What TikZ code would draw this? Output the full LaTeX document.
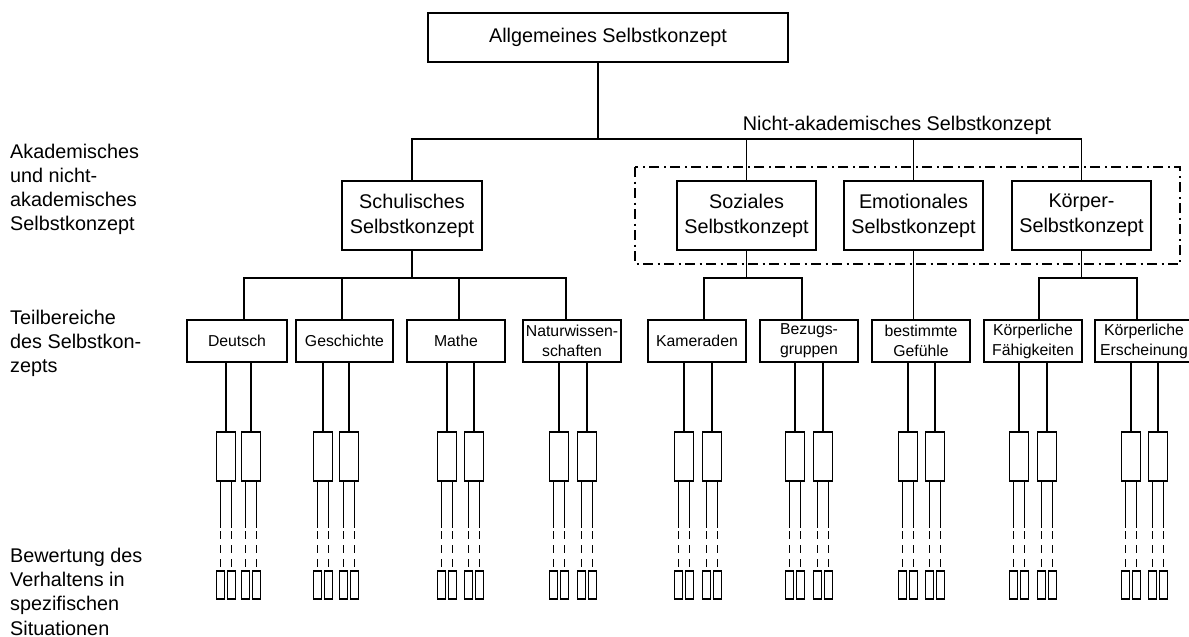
\documentclass[tikz,border=0pt]{standalone}
\usepackage{fontspec}
\setmainfont{Liberation Sans}
\begin{document}
\begin{tikzpicture}[x=1pt,y=-1pt,
  bigfont/.style={font=\fontsize{19.8}{25}\selectfont},
  labfont/.style={font=\fontsize{19.8}{24.2}\selectfont},
  smallfont/.style={font=\fontsize{15.8}{20}\selectfont},
  lbox/.style={draw, line width=1.9pt, inner sep=0pt, outer sep=0pt, align=center},
  conn/.style={line width=1.9pt},
  conntwo/.style={line width=1.6pt},
  dashpat/.style={dash pattern=on 8pt off 6pt},
  dashdotpat/.style={line width=1.7pt, dash pattern=on 10pt off 4.5pt on 2pt off 4.5pt},
  sbox/.style={draw, line width=1.8pt, minimum width=19pt, minimum height=49pt, inner sep=0pt, outer sep=0pt},
  tbox/.style={draw, line width=1.5pt, minimum width=8pt, minimum height=28pt, inner sep=0pt, outer sep=0pt},
  lab/.style={labfont, anchor=north west, align=left, inner sep=0pt}
]
\useasboundingbox (0,0) rectangle (1189,637);
\fill[white] (0,0) rectangle (1189,637);

% left labels
\node[lab] (labA) at (10,143.5) {Akademisches\\und nicht-\\akademisches\\Selbstkonzept};
\node[lab] (labB) at (10,310) {Teilbereiche\\des Selbstkon-\\zepts};
\node[lab] (labC) at (10,548) {Bewertung des\\Verhaltens in\\spezifischen\\Situationen};

% top
\node[lbox,bigfont,minimum width=360pt,minimum height=49pt] (top) at (608,37.5) {Allgemeines Selbstkonzept};

% level 2
\node[lbox,bigfont,minimum width=140pt,minimum height=69pt] (schul) at (412,215.5) {Schulisches\\Selbstkonzept};
\node[lbox,bigfont,minimum width=139pt,minimum height=69pt] (sozial) at (746.5,215.5) {Soziales\\Selbstkonzept};
\node[lbox,bigfont,minimum width=139pt,minimum height=69pt] (emot) at (913.5,215.5) {Emotionales\\Selbstkonzept};
\node[lbox,bigfont,minimum width=139pt,minimum height=69pt] (koerper) at (1081.5,215.5) {Körper-\\Selbstkonzept};

\node[bigfont, inner sep=0pt] (nak) at (897,125) {Nicht-akademisches Selbstkonzept};

\draw[dashdotpat] (635,167) rectangle (1180,264);

% level 3
\node[lbox,smallfont,minimum width=100pt,minimum height=42pt] (deutsch) at (237,341) {Deutsch};
\node[lbox,smallfont,minimum width=97pt,minimum height=42pt] (gesch) at (344.5,341) {Geschichte};
\node[lbox,smallfont,minimum width=98pt,minimum height=42pt] (mathe) at (456,341) {Mathe};
\node[lbox,smallfont,minimum width=98pt,minimum height=42pt] (natur) at (572,341) {Naturwissen-\\schaften};
\node[lbox,smallfont,minimum width=98pt,minimum height=42pt] (kamer) at (697,341) {Kameraden};
\node[lbox,smallfont,minimum width=98pt,minimum height=42pt] (bezug) at (809,341) {Bezugs-\\gruppen};
\node[lbox,smallfont,minimum width=98pt,minimum height=42pt] (gef) at (921,341) {bestimmte\\Gefühle};
\node[lbox,smallfont,minimum width=98pt,minimum height=42pt] (faeh) at (1033,341) {Körperliche\\Fähigkeiten};
\node[lbox,smallfont,minimum width=98pt,minimum height=42pt] (ersch) at (1144,341) {Körperliche\\Erscheinung};

% connectors level 1 -> 2
\coordinate (bus1) at (598,139);
\draw[conn] (top.south -| bus1) -- (bus1);
\draw[conn] (schul.north) |- (bus1) -| (koerper.north);
\draw[conn] (sozial.north) -- (sozial.north |- bus1);
\draw[conn] (emot.north) -- (emot.north |- bus1);

% connectors level 2 -> 3
\draw[conn] (schul.south) -- ++(0,28) coordinate (bus2);
\draw[conn] ([xshift=7pt]deutsch.north) |- (bus2) -| ([xshift=-6pt]natur.north);
\draw[conn] ([xshift=-2.5pt]gesch.north) -- ([xshift=-2.5pt]gesch.north |- bus2);
\draw[conn] ([xshift=3pt]mathe.north) -- ([xshift=3pt]mathe.north |- bus2);

\draw[conn] (sozial.south) -- ++(0,28) coordinate (bus3);
\draw[conn] ([xshift=7pt]kamer.north) |- (bus3) -| ([xshift=-7pt]bezug.north);

\draw[conn] (emot.south) -- (emot.south |- gef.north);

\draw[conn] (koerper.south) -- ++(0,28) coordinate (bus4);
\draw[conn] ([xshift=6pt]faeh.north) |- (bus4) -| ([xshift=-7pt]ersch.north);

% level 4 and 5
\coordinate (ya) at (0,528);
\coordinate (yb) at (0,531);
\foreach \nm/\xa/\xb in {deutsch/226/251, gesch/323/349, mathe/447/474, natur/559/587, kamer/684/712, bezug/795/823, gef/908/935, faeh/1019/1047, ersch/1131/1158} {
  \foreach \xx [count=\k] in {\xa,\xb} {
    \node[sbox] (\nm-\k) at (\xx,456.5) {};
    \draw[conn] (\nm-\k.north |- \nm.south) -- (\nm-\k.north);
    \foreach \side/\dx in {l/-5.5, r/5.5} {
      \node[tbox] (\nm-\k-\side) at ({\xx+(\dx)},585) {};
      \draw[conntwo] (\nm-\k-\side.north |- \nm-\k.south) -- (\nm-\k-\side.north |- ya);
      \draw[conntwo, dashpat] (\nm-\k-\side.north |- yb) -- (\nm-\k-\side.north);
    }
  }
}
\end{tikzpicture}
\end{document}
